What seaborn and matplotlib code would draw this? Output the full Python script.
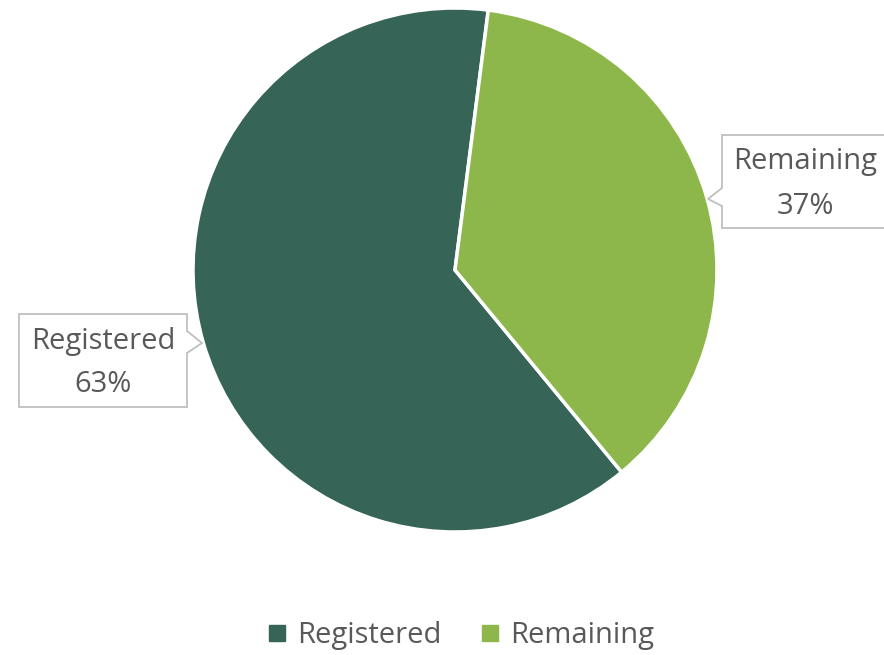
import seaborn as sns
import matplotlib.pyplot as plt
from matplotlib.patches import Polygon
from matplotlib.lines import Line2D
import numpy as np

# data
labels = ['Registered', 'Remaining']
shares = [63, 37]
colors = ['#366557', '#8DB74A']

sns.set_theme(style='white')
plt.rcParams['font.family'] = ['Open Sans', 'DejaVu Sans']
text_col = '#595959'

fig = plt.figure(figsize=(8.84, 6.55), dpi=100)
ax = fig.add_axes([0, 0, 1, 1])

wedges, _ = ax.pie(shares, colors=colors, startangle=82.7, counterclock=True,
                   radius=1.0, wedgeprops=dict(edgecolor='white', linewidth=2.5))

# pie centre at (455, 270) px, radius 262 px
R = 262.0
ax.set_xlim(-455 / R, (884 - 455) / R)
ax.set_ylim(-(655 - 270) / R, 270 / R)
ax.set_aspect('auto')
ax.axis('off')


def px(x, y):
    return ((x - 455) / R, (270 - y) / R)


def callout(box, tip, base, side, lines):
    x0, y0, x1, y1 = box  # pixels: left, top, right, bottom
    b0, b1 = base
    if side == 'left':
        pts = [(x0, y0), (x1, y0), (x1, y1), (x0, y1), (x0, b1), tip, (x0, b0)]
    else:
        pts = [(x0, y0), (x1, y0), (x1, b0), tip, (x1, b1), (x1, y1), (x0, y1)]
    poly = Polygon([px(*p) for p in pts], closed=True, facecolor='white',
                   edgecolor='#BFBFBF', linewidth=1.3, zorder=5)
    ax.add_patch(poly)
    cx = (x0 + min(x1, 884)) / 2 + (2 if side == 'left' else 0)
    for (txt, ty) in lines:
        ax.text(*px(cx, ty), txt, ha='center', va='center', fontsize=21,
                color=text_col, zorder=6)


callout((722, 135, 892, 228), (708, 199), (188, 206), 'left',
        [(labels[1], 162), (f'{shares[1]}%', 207)])
callout((19, 314, 187, 407), (202, 343), (331, 353), 'right',
        [(labels[0], 342), (f'{shares[0]}%', 385)])

handles = [Line2D([0], [0], marker='s', linestyle='none', markersize=11,
                  markerfacecolor=c, markeredgecolor=c) for c in colors]
fig.legend(handles, labels, loc='center', bbox_to_anchor=(460 / 884, 1 - 636 / 655),
           ncol=2, frameon=False, fontsize=21, labelcolor=text_col,
           handletextpad=0.3, columnspacing=1.25, handlelength=0.8)

fig.savefig('out.png', dpi=100)
